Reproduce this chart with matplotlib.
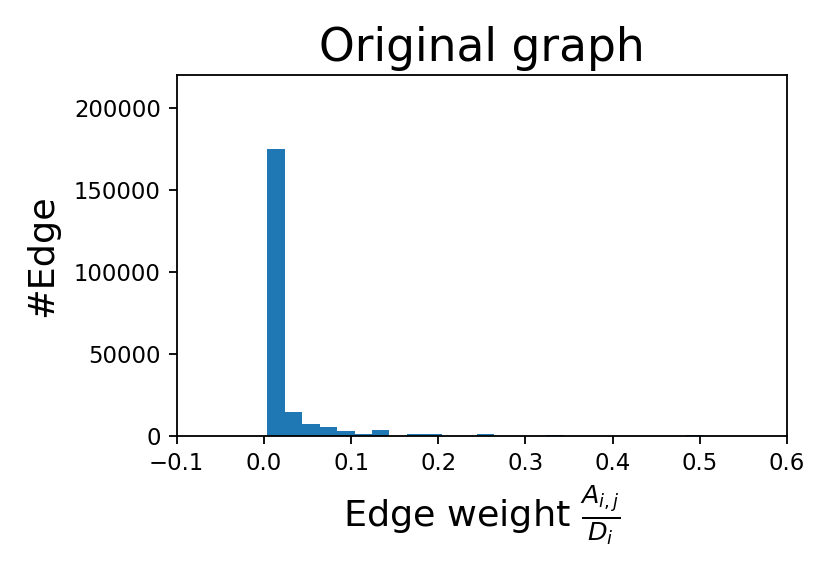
import numpy as np
import matplotlib
matplotlib.use("Agg")
import matplotlib.pyplot as plt

# 히스토그램 bin 경계 (폭 0.02, 25개)와 bin별 엣지 수 — 그림에서 읽은 값
bin_edges = np.linspace(0.004, 0.504, 26)
edge_counts = [
    174700, 14200, 7200, 5400, 2600, 1100, 3200, 0, 1300, 1100,
    0, 0, 900, 0, 0, 0, 700, 0, 0, 0,
    0, 0, 0, 0, 300,
]

x_ticks = [-0.1, 0.0, 0.1, 0.2, 0.3, 0.4, 0.5, 0.6]
y_ticks = [0, 50000, 100000, 150000, 200000]

DPI = 164
fig = plt.figure(figsize=(830 / DPI, 581 / DPI), dpi=DPI)
ax = fig.add_axes([0.2129, 0.2501, 0.9482 - 0.2129, 0.8709 - 0.2501])

ax.hist(bin_edges[:-1], bins=bin_edges, weights=edge_counts, color="#1f77b4")

ax.set_xlim(-0.1, 0.6)
ax.set_ylim(0, 220000)
ax.set_xticks(x_ticks)
ax.set_yticks(y_ticks)
ax.tick_params(labelsize=10)

ax.set_title("Original graph", fontsize=20)
ax.set_xlabel(r"Edge weight $\frac{A_{i,j}}{D_i}$", fontsize=16)
ax.set_ylabel("#Edge", fontsize=16, labelpad=6.5)

fig.savefig("out.png", dpi=DPI)
